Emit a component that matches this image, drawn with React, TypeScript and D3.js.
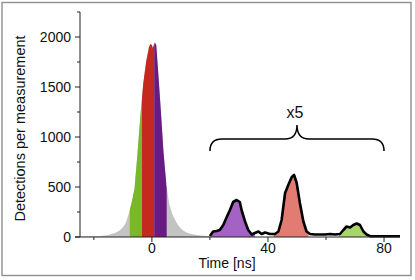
import React from 'react'
import * as d3 from 'd3'

// main (unscaled) peak: time in ns, detections per measurement
const mainTime = [-26.5, -25, -22, -20, -18, -16, -15, -14, -13, -12, -11, -10, -9, -8, -7, -6, -5, -4, -3, -2, -1, -0.5, 0, 0.3, 1, 1.5, 2, 3, 4, 5, 6, 7, 8, 9, 10, 11, 12, 13, 14, 16, 18, 20]
const mainCounts = [3, 4, 6, 8, 10, 15, 20, 30, 38, 50, 67, 97, 140, 230, 340, 480, 820, 1200, 1530, 1750, 1900, 1930, 1920, 1890, 1945, 1920, 1720, 1300, 850, 520, 330, 230, 170, 120, 85, 60, 45, 35, 28, 18, 12, 8]

// delayed part of the trace, shown magnified x5 (values as drawn)
const tailTime = [20, 21.1, 22.3, 23.4, 24.6, 25.8, 26.9, 28, 29.2, 30.3, 30.9, 32.1, 33.2, 34.4, 35.5, 36.7, 37.8, 39, 40.7, 42.4, 43.6, 44.7, 45.9, 47, 48.2, 49, 49.9, 51, 52.2, 53.3, 54.5, 56.2, 57.9, 59.7, 61.4, 63.1, 64.8, 66, 67.1, 68.3, 69.4, 70.6, 71.7, 72.9, 74, 75.2, 77.5, 80.9, 85.5]
const tailCountsX5 = [10, 55, 60, 70, 120, 200, 270, 350, 370, 350, 270, 155, 70, 25, 40, 55, 30, 45, 30, 30, 55, 170, 440, 520, 600, 620, 540, 340, 155, 55, 30, 25, 25, 25, 30, 25, 30, 70, 105, 95, 120, 135, 120, 55, 25, 8, 8, 8, 8]

// coloured time windows [start, end] in ns
const mainBands: [number, number, string][] = [
  [-7.6, -3.4, '#7ab829'],
  [-3.4, 0.8, '#c4281f'],
  [0.8, 5.1, '#6a1b82'],
]
const tailBands: [number, number, string][] = [
  [20.3, 35.5, '#a462c4'],
  [42, 54, '#e27b72'],
  [64.5, 74.5, '#a9d46b'],
]

const yMajor = [0, 500, 1000, 1500, 2000]
const yMinor = [250, 750, 1250, 1750, 2250]
const xMajor = [0, 40, 80]
const xMinor = [-20, 20, 60]
const braceRange = [20, 80]

const FONT = '"Liberation Sans", Arial, sans-serif'

export default function App() {
  const x = d3.scaleLinear().domain([-26.5, 85.5]).range([75, 400])
  const y = d3.scaleLinear().domain([0, 2250]).range([237, 12])

  const main = mainTime.map((t, i) => ({ t, v: mainCounts[i] }))
  const tail = tailTime.map((t, i) => ({ t, v: tailCountsX5[i] }))

  const area = d3.area<{ t: number; v: number }>()
    .x((d) => x(d.t)).y0(y(0)).y1((d) => y(d.v))
  const line = d3.line<{ t: number; v: number }>()
    .x((d) => x(d.t)).y((d) => y(d.v))

  const bx0 = x(braceRange[0])
  const bx1 = x(braceRange[1])
  const bm = (bx0 + bx1) / 2
  const bTop = 139
  const bEnd = 151
  const tip = 125
  const brace = `M${bx0},${bEnd} Q${bx0},${bTop} ${bx0 + 12},${bTop} L${bm - 12},${bTop} Q${bm},${bTop} ${bm},${tip} Q${bm},${bTop} ${bm + 12},${bTop} L${bx1 - 12},${bTop} Q${bx1},${bTop} ${bx1},${bEnd}`

  return (
    <svg width={415} height={280} style={{ position: 'absolute', left: 0, top: 0 }} fontFamily={FONT}>
      <rect x={0} y={0} width={415} height={280} fill="white" />
      <rect x={2} y={2.5} width={409} height={273} fill="none" stroke="#8f8f8f" strokeWidth={1.4} />

      <defs>
        {[...mainBands, ...tailBands].map((b, i) => (
          <clipPath id={`band${i}`} key={i}>
            <rect x={x(b[0])} y={0} width={x(b[1]) - x(b[0])} height={280} />
          </clipPath>
        ))}
      </defs>

      {/* main peak */}
      <path d={area(main) ?? ''} fill="#c3c3c3" />
      {mainBands.map((b, i) => (
        <path key={i} d={area(main) ?? ''} fill={b[2]} clipPath={`url(#band${i})`} />
      ))}

      {/* magnified tail */}
      {tailBands.map((b, i) => (
        <path key={i} d={area(tail) ?? ''} fill={b[2]} clipPath={`url(#band${i + mainBands.length})`} />
      ))}
      <path d={line(tail) ?? ''} fill="none" stroke="black" strokeWidth={2.6} strokeLinejoin="round" />

      {/* y axis */}
      <line x1={80} x2={80} y1={y(2250)} y2={y(0)} stroke="#222" />
      {yMajor.map((v) => (
        <g key={v}>
          <line x1={75} x2={80} y1={y(v)} y2={y(v)} stroke="#222" />
          <text x={71} y={y(v)} dy="0.36em" textAnchor="end" fontSize={14} fill="#111">{v}</text>
        </g>
      ))}
      {yMinor.map((v) => (
        <line key={v} x1={77} x2={80} y1={y(v)} y2={y(v)} stroke="#222" />
      ))}

      {/* x axis */}
      <line x1={75} x2={400} y1={y(0)} y2={y(0)} stroke="#222" />
      {xMajor.map((t) => (
        <g key={t}>
          <line x1={x(t)} x2={x(t)} y1={y(0)} y2={y(0) + 5} stroke="#222" />
          <text x={x(t)} y={253} textAnchor="middle" fontSize={14} fill="#111">{t}</text>
        </g>
      ))}
      {xMinor.map((t) => (
        <line key={t} x1={x(t)} x2={x(t)} y1={y(0)} y2={y(0) + 3} stroke="#222" />
      ))}

      <text x={227} y={268} textAnchor="middle" fontSize={14} fill="#111">Time [ns]</text>
      <text transform="translate(25,128.5) rotate(-90)" textAnchor="middle" fontSize={14.5} fill="#111">Detections per measurement</text>

      {/* x5 brace */}
      <path d={brace} fill="none" stroke="black" strokeWidth={1.5} />
      <text x={bm - 2} y={117.5} textAnchor="middle" fontSize={16} fill="#111">x5</text>
    </svg>
  )
}
